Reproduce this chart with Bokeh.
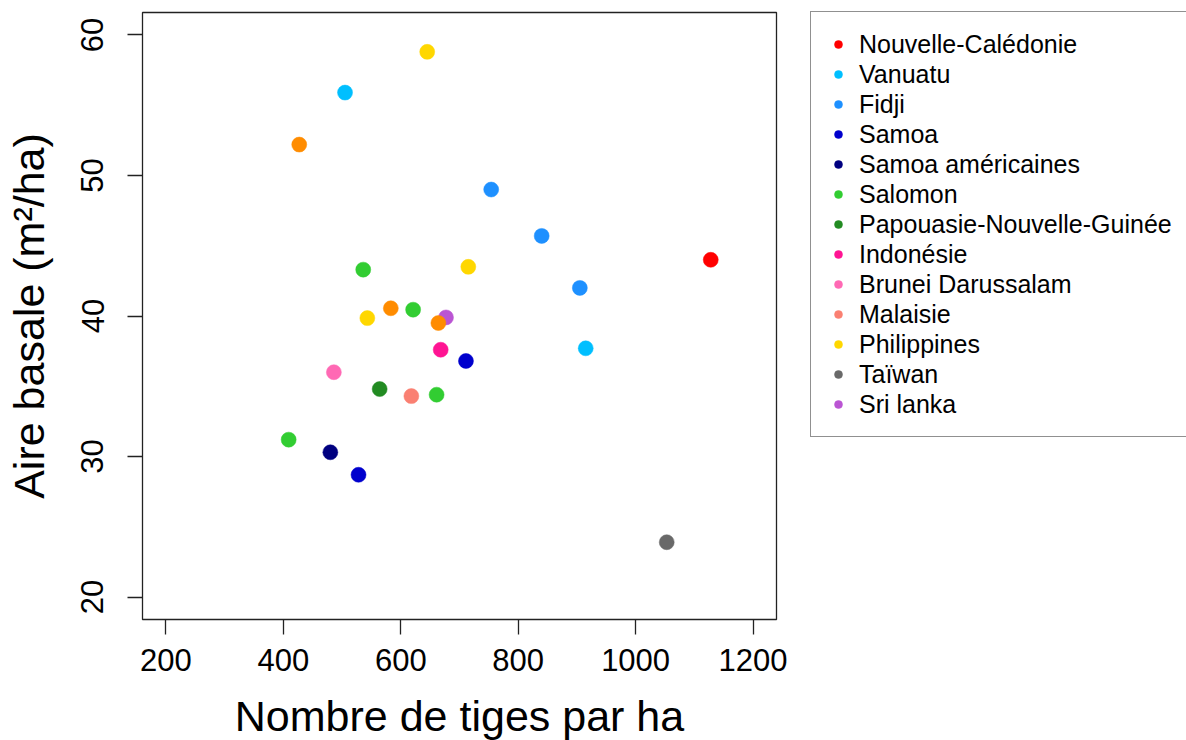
from bokeh.plotting import figure
from bokeh.models import Range1d, FixedTicker, Legend, LegendItem, ColumnDataSource
from bokeh.embed import file_html
from bokeh.resources import INLINE

# ---- data -------------------------------------------------------------
countries = ["Nouvelle-Calédonie", "Vanuatu", "Fidji", "Samoa", "Samoa américaines",
             "Salomon", "Papouasie-Nouvelle-Guinée", "Indonésie", "Brunei Darussalam",
             "Malaisie", "Philippines", "Taïwan", "Sri lanka"]
country_colors = ["#FF0000", "#00BFFF", "#1E90FF", "#0000CD", "#000080",
                  "#32CD32", "#228B22", "#FF1493", "#FF69B4",
                  "#FA8072", "#FFD700", "#696969", "#BA55D3"]
unlisted_group = "Autre"
unlisted_color = "#FF8C00"

point_country = ["Nouvelle-Calédonie",
                 "Vanuatu", "Vanuatu",
                 "Fidji", "Fidji", "Fidji",
                 "Samoa", "Samoa",
                 "Samoa américaines",
                 "Salomon", "Salomon", "Salomon", "Salomon",
                 "Papouasie-Nouvelle-Guinée",
                 "Indonésie",
                 "Brunei Darussalam",
                 "Malaisie",
                 "Philippines", "Philippines", "Philippines",
                 "Taïwan",
                 "Sri lanka",
                 "Autre", "Autre", "Autre"]
stems_per_ha = [1128,
                505, 915,
                754, 840, 905,
                711, 528,
                480,
                536, 621, 661, 409,
                564,
                668,
                486,
                618,
                645, 715, 543,
                1053,
                677,
                427, 583, 664]
basal_area = [44.0,
              55.9, 37.7,
              49.0, 45.7, 42.0,
              36.8, 28.7,
              30.3,
              43.3, 40.45, 34.4, 31.2,
              34.8,
              37.6,
              36.0,
              34.3,
              58.8, 43.5, 39.85,
              23.9,
              39.9,
              52.2, 40.55, 39.5]

x_ticks = [200, 400, 600, 800, 1000, 1200]
y_ticks = [20, 30, 40, 50, 60]
x_label = "Nombre de tiges par ha"
y_label = "Aire basale (m²/ha)"

# ---- figure -----------------------------------------------------------
FONT = "Liberation Sans"

p = figure(output_backend="svg", toolbar_location=None,
           x_range=Range1d(160, 1240), y_range=Range1d(18.4, 61.6),
           frame_width=634, frame_height=607,
           min_border_left=142, min_border_right=410,
           min_border_top=12, min_border_bottom=121)

p.xgrid.visible = False
p.ygrid.visible = False
p.outline_line_color = "#222222"
p.outline_line_width = 1.3
p.background_fill_color = "white"
p.border_fill_color = "white"

for ax, ticks in ((p.xaxis[0], x_ticks), (p.yaxis[0], y_ticks)):
    ax.ticker = FixedTicker(ticks=ticks)
    ax.axis_line_color = None
    ax.major_tick_line_color = "#222222"
    ax.major_tick_line_width = 1.3
    ax.major_tick_out = 15
    ax.major_tick_in = 0
    ax.minor_tick_line_color = None
    ax.major_label_text_font = FONT
    ax.major_label_text_font_size = "31px"
    ax.major_label_text_color = "black"
    ax.axis_label_text_font = FONT
    ax.axis_label_text_font_size = "43px"
    ax.axis_label_text_font_style = "normal"
    ax.axis_label_text_color = "black"

p.xaxis.axis_label = x_label
p.yaxis.axis_label = y_label
p.xaxis.major_label_standoff = 14
p.xaxis.axis_label_standoff = 18
p.yaxis.major_label_orientation = "vertical"
p.yaxis.major_label_standoff = 24
p.yaxis.axis_label_standoff = 26

renderers = {}
groups = countries + [unlisted_group]
group_colors = country_colors + [unlisted_color]
for name, col in zip(groups, group_colors):
    xs = [x for x, c in zip(stems_per_ha, point_country) if c == name]
    ys = [y for y, c in zip(basal_area, point_country) if c == name]
    src = ColumnDataSource(dict(x=xs, y=ys))
    r = p.scatter("x", "y", source=src, marker="circle", size=15,
                  fill_color=col, line_color=col, line_width=0.5)
    renderers[name] = r

items = [LegendItem(label=name, renderers=[renderers[name]]) for name in countries]
legend = Legend(items=items, location=(34, 182),
                label_text_font=FONT, label_text_font_size="25px",
                label_text_color="black",
                glyph_width=20, glyph_height=30, label_height=30, label_width=335,
                spacing=0, padding=17, margin=0, label_standoff=11,
                border_line_color="#222222", border_line_width=1.3,
                background_fill_color="white", background_fill_alpha=1.0)
p.add_layout(legend, "right")

open("out.html", "w").write(file_html(p, INLINE))
